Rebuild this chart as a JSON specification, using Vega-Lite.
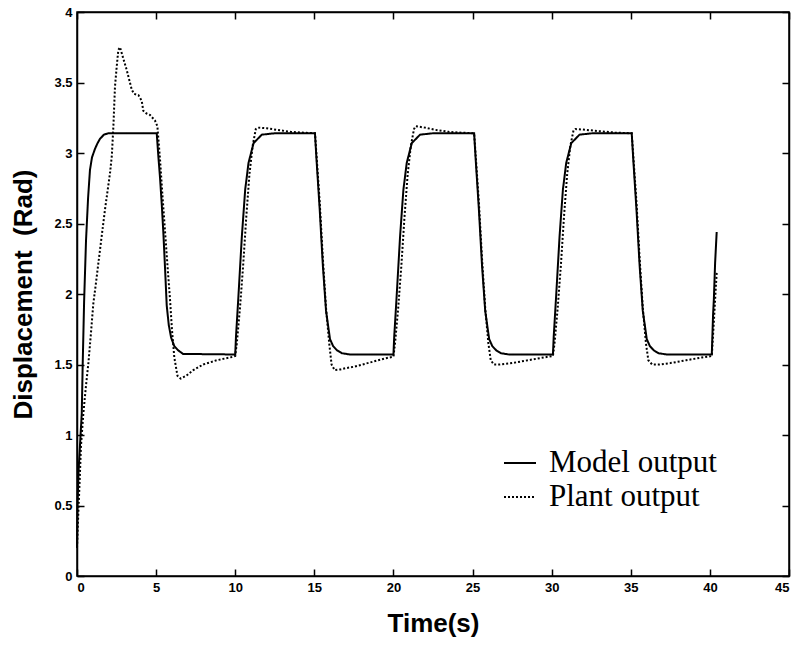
{
  "$schema": "https://vega.github.io/schema/vega-lite/v6.json",
  "width": 712,
  "height": 564,
  "autosize": "none",
  "padding": {"left": 77, "top": 12, "right": 9, "bottom": 75},
  "background": "white",
  "config": {
    "view": {"stroke": "black", "strokeWidth": 1.5},
    "axis": {
      "grid": false,
      "domainColor": "black",
      "domainWidth": 1.5,
      "tickColor": "black",
      "tickWidth": 1.5,
      "labelFont": "Liberation Sans",
      "labelFontWeight": "bold",
      "labelFontSize": 13,
      "labelColor": "black",
      "titleFont": "Liberation Sans",
      "titleFontWeight": "bold",
      "titleFontSize": 26,
      "titleColor": "black"
    }
  },
  "data": {"values": [
    {"s":"Model output","t":0,"v":0.2},{"s":"Model output","t":0.03,"v":0.5},{"s":"Model output","t":0.1,"v":0.75},{"s":"Model output","t":0.2,"v":0.95},{"s":"Model output","t":0.3,"v":1.15},{"s":"Model output","t":0.36,"v":1.5},{"s":"Model output","t":0.45,"v":1.95},{"s":"Model output","t":0.57,"v":2.38},{"s":"Model output","t":0.7,"v":2.68},{"s":"Model output","t":0.82,"v":2.88},{"s":"Model output","t":0.95,"v":2.97},{"s":"Model output","t":1.14,"v":3.03},{"s":"Model output","t":1.3,"v":3.07},{"s":"Model output","t":1.45,"v":3.1},{"s":"Model output","t":1.7,"v":3.13},{"s":"Model output","t":1.98,"v":3.14},{"s":"Model output","t":5.04,"v":3.14},
    {"s":"Model output","t":5.14,"v":2.98},{"s":"Model output","t":5.25,"v":2.82},{"s":"Model output","t":5.36,"v":2.63},{"s":"Model output","t":5.46,"v":2.43},{"s":"Model output","t":5.57,"v":2.17},{"s":"Model output","t":5.67,"v":1.92},{"s":"Model output","t":5.8,"v":1.78},{"s":"Model output","t":5.95,"v":1.69},{"s":"Model output","t":6.15,"v":1.63},{"s":"Model output","t":6.4,"v":1.6},{"s":"Model output","t":6.7,"v":1.575},{"s":"Model output","t":10.0,"v":1.571},
    {"s":"Model output","t":10.05,"v":1.7},{"s":"Model output","t":10.2,"v":1.98},{"s":"Model output","t":10.42,"v":2.41},{"s":"Model output","t":10.63,"v":2.74},{"s":"Model output","t":10.84,"v":2.93},{"s":"Model output","t":11.16,"v":3.07},{"s":"Model output","t":11.68,"v":3.13},{"s":"Model output","t":12.5,"v":3.14},{"s":"Model output","t":15.04,"v":3.14},
    {"s":"Model output","t":15.14,"v":2.95},{"s":"Model output","t":15.34,"v":2.6},{"s":"Model output","t":15.54,"v":2.2},{"s":"Model output","t":15.74,"v":1.88},{"s":"Model output","t":15.99,"v":1.68},{"s":"Model output","t":16.19,"v":1.63},{"s":"Model output","t":16.44,"v":1.6},{"s":"Model output","t":16.74,"v":1.58},{"s":"Model output","t":17.24,"v":1.571},{"s":"Model output","t":20.0,"v":1.571},
    {"s":"Model output","t":20.05,"v":1.7},{"s":"Model output","t":20.2,"v":1.98},{"s":"Model output","t":20.42,"v":2.41},{"s":"Model output","t":20.63,"v":2.74},{"s":"Model output","t":20.84,"v":2.93},{"s":"Model output","t":21.16,"v":3.07},{"s":"Model output","t":21.68,"v":3.13},{"s":"Model output","t":22.5,"v":3.14},{"s":"Model output","t":25.1,"v":3.14},
    {"s":"Model output","t":25.2,"v":2.95},{"s":"Model output","t":25.4,"v":2.6},{"s":"Model output","t":25.6,"v":2.2},{"s":"Model output","t":25.8,"v":1.88},{"s":"Model output","t":26.05,"v":1.68},{"s":"Model output","t":26.25,"v":1.63},{"s":"Model output","t":26.5,"v":1.6},{"s":"Model output","t":26.8,"v":1.58},{"s":"Model output","t":27.3,"v":1.571},{"s":"Model output","t":30.08,"v":1.571},
    {"s":"Model output","t":30.13,"v":1.7},{"s":"Model output","t":30.28,"v":1.98},{"s":"Model output","t":30.5,"v":2.41},{"s":"Model output","t":30.71,"v":2.74},{"s":"Model output","t":30.92,"v":2.93},{"s":"Model output","t":31.24,"v":3.07},{"s":"Model output","t":31.76,"v":3.13},{"s":"Model output","t":32.58,"v":3.14},{"s":"Model output","t":35.06,"v":3.14},
    {"s":"Model output","t":35.16,"v":2.95},{"s":"Model output","t":35.36,"v":2.6},{"s":"Model output","t":35.56,"v":2.2},{"s":"Model output","t":35.76,"v":1.88},{"s":"Model output","t":36.01,"v":1.68},{"s":"Model output","t":36.21,"v":1.63},{"s":"Model output","t":36.46,"v":1.6},{"s":"Model output","t":36.76,"v":1.58},{"s":"Model output","t":37.26,"v":1.571},{"s":"Model output","t":40.12,"v":1.571},
    {"s":"Model output","t":40.2,"v":1.85},{"s":"Model output","t":40.25,"v":1.96},{"s":"Model output","t":40.33,"v":2.22},{"s":"Model output","t":40.43,"v":2.44},

    {"s":"Plant output","t":0,"v":0.2},{"s":"Plant output","t":0.05,"v":0.35},{"s":"Plant output","t":0.1,"v":0.49},{"s":"Plant output","t":0.17,"v":0.68},{"s":"Plant output","t":0.25,"v":0.92},{"s":"Plant output","t":0.4,"v":1.15},{"s":"Plant output","t":0.55,"v":1.33},{"s":"Plant output","t":0.72,"v":1.51},{"s":"Plant output","t":0.88,"v":1.72},{"s":"Plant output","t":1.03,"v":1.93},{"s":"Plant output","t":1.2,"v":2.08},{"s":"Plant output","t":1.45,"v":2.31},{"s":"Plant output","t":1.77,"v":2.6},{"s":"Plant output","t":2.09,"v":2.86},{"s":"Plant output","t":2.2,"v":2.98},{"s":"Plant output","t":2.3,"v":3.19},{"s":"Plant output","t":2.4,"v":3.47},{"s":"Plant output","t":2.5,"v":3.6},{"s":"Plant output","t":2.61,"v":3.73},{"s":"Plant output","t":2.72,"v":3.75},{"s":"Plant output","t":2.9,"v":3.68},{"s":"Plant output","t":3.14,"v":3.59},{"s":"Plant output","t":3.46,"v":3.45},{"s":"Plant output","t":3.6,"v":3.42},{"s":"Plant output","t":3.88,"v":3.41},{"s":"Plant output","t":4.09,"v":3.37},{"s":"Plant output","t":4.19,"v":3.3},{"s":"Plant output","t":4.4,"v":3.28},{"s":"Plant output","t":4.61,"v":3.27},{"s":"Plant output","t":4.93,"v":3.23},{"s":"Plant output","t":5.08,"v":3.19},
    {"s":"Plant output","t":5.25,"v":2.95},{"s":"Plant output","t":5.4,"v":2.7},{"s":"Plant output","t":5.56,"v":2.45},{"s":"Plant output","t":5.72,"v":2.2},{"s":"Plant output","t":5.88,"v":1.96},{"s":"Plant output","t":6.0,"v":1.75},{"s":"Plant output","t":6.15,"v":1.55},{"s":"Plant output","t":6.35,"v":1.42},{"s":"Plant output","t":6.55,"v":1.4},{"s":"Plant output","t":6.9,"v":1.42},{"s":"Plant output","t":7.35,"v":1.46},{"s":"Plant output","t":7.98,"v":1.5},{"s":"Plant output","t":8.83,"v":1.53},{"s":"Plant output","t":9.88,"v":1.555},{"s":"Plant output","t":10.0,"v":1.56},
    {"s":"Plant output","t":10.1,"v":1.65},{"s":"Plant output","t":10.3,"v":1.9},{"s":"Plant output","t":10.5,"v":2.2},{"s":"Plant output","t":10.7,"v":2.55},{"s":"Plant output","t":10.9,"v":2.85},{"s":"Plant output","t":11.1,"v":3.05},{"s":"Plant output","t":11.3,"v":3.17},{"s":"Plant output","t":11.45,"v":3.18},{"s":"Plant output","t":12.0,"v":3.175},{"s":"Plant output","t":12.6,"v":3.165},{"s":"Plant output","t":13.5,"v":3.15},{"s":"Plant output","t":14.5,"v":3.143},{"s":"Plant output","t":15.04,"v":3.14},
    {"s":"Plant output","t":15.14,"v":2.98},{"s":"Plant output","t":15.34,"v":2.65},{"s":"Plant output","t":15.54,"v":2.25},{"s":"Plant output","t":15.74,"v":1.9},{"s":"Plant output","t":15.94,"v":1.65},{"s":"Plant output","t":16.09,"v":1.5},{"s":"Plant output","t":16.29,"v":1.46},{"s":"Plant output","t":16.64,"v":1.465},{"s":"Plant output","t":17.04,"v":1.475},{"s":"Plant output","t":17.54,"v":1.485},{"s":"Plant output","t":18.04,"v":1.5},{"s":"Plant output","t":18.54,"v":1.515},{"s":"Plant output","t":19.04,"v":1.53},{"s":"Plant output","t":19.54,"v":1.545},{"s":"Plant output","t":20.0,"v":1.555},
    {"s":"Plant output","t":20.1,"v":1.65},{"s":"Plant output","t":20.3,"v":1.9},{"s":"Plant output","t":20.5,"v":2.2},{"s":"Plant output","t":20.7,"v":2.55},{"s":"Plant output","t":20.9,"v":2.85},{"s":"Plant output","t":21.1,"v":3.05},{"s":"Plant output","t":21.3,"v":3.17},{"s":"Plant output","t":21.4,"v":3.19},{"s":"Plant output","t":22.0,"v":3.18},{"s":"Plant output","t":22.6,"v":3.165},{"s":"Plant output","t":23.5,"v":3.15},{"s":"Plant output","t":24.5,"v":3.143},{"s":"Plant output","t":25.1,"v":3.14},
    {"s":"Plant output","t":25.2,"v":2.98},{"s":"Plant output","t":25.4,"v":2.65},{"s":"Plant output","t":25.6,"v":2.25},{"s":"Plant output","t":25.8,"v":1.9},{"s":"Plant output","t":26.0,"v":1.65},{"s":"Plant output","t":26.15,"v":1.53},{"s":"Plant output","t":26.35,"v":1.5},{"s":"Plant output","t":26.7,"v":1.5},{"s":"Plant output","t":27.5,"v":1.51},{"s":"Plant output","t":28.5,"v":1.53},{"s":"Plant output","t":29.5,"v":1.55},{"s":"Plant output","t":30.08,"v":1.56},
    {"s":"Plant output","t":30.18,"v":1.65},{"s":"Plant output","t":30.38,"v":1.9},{"s":"Plant output","t":30.58,"v":2.2},{"s":"Plant output","t":30.78,"v":2.55},{"s":"Plant output","t":30.98,"v":2.85},{"s":"Plant output","t":31.18,"v":3.05},{"s":"Plant output","t":31.38,"v":3.16},{"s":"Plant output","t":31.5,"v":3.17},{"s":"Plant output","t":32.1,"v":3.165},{"s":"Plant output","t":33.0,"v":3.155},{"s":"Plant output","t":34.0,"v":3.145},{"s":"Plant output","t":35.06,"v":3.14},
    {"s":"Plant output","t":35.16,"v":2.98},{"s":"Plant output","t":35.36,"v":2.65},{"s":"Plant output","t":35.56,"v":2.25},{"s":"Plant output","t":35.76,"v":1.9},{"s":"Plant output","t":35.96,"v":1.65},{"s":"Plant output","t":36.11,"v":1.53},{"s":"Plant output","t":36.35,"v":1.5},{"s":"Plant output","t":36.8,"v":1.5},{"s":"Plant output","t":37.5,"v":1.51},{"s":"Plant output","t":38.5,"v":1.53},{"s":"Plant output","t":39.5,"v":1.55},{"s":"Plant output","t":40.12,"v":1.56},{"s":"Plant output","t":40.25,"v":1.8},{"s":"Plant output","t":40.35,"v":2.0},{"s":"Plant output","t":40.43,"v":2.15}
  ]},
  "layer": [
    {
      "mark": {"type": "line", "color": "black", "strokeWidth": 2, "interpolate": "linear"},
      "encoding": {
        "x": {"field": "t", "type": "quantitative", "scale": {"domain": [0, 45], "nice": false, "zero": false},
              "axis": {"title": "Time(s)", "values": [0,5,10,15,20,25,30,35,40,45], "format": "~g", "tickSize": -7, "labelPadding": 12, "titlePadding": 16}},
        "y": {"field": "v", "type": "quantitative", "scale": {"domain": [0, 4], "nice": false},
              "axis": {"title": "Displacement\u00a0\u00a0(Rad)", "values": [0,0.5,1,1.5,2,2.5,3,3.5,4], "format": "~g", "tickSize": -7, "labelPadding": 12, "titlePadding": 17}},
        "strokeDash": {"field": "s", "type": "nominal",
          "scale": {"domain": ["Model output", "Plant output"], "range": [[1, 0], [2, 2]]},
          "legend": {"title": null, "orient": "none", "legendX": 426, "legendY": 434, "padding": 0,
            "symbolType": "stroke", "symbolSize": 1024, "symbolStrokeWidth": 2, "symbolStrokeColor": "black",
            "labelFont": "Liberation Serif", "labelFontSize": 31, "labelColor": "black", "labelOffset": 12,
            "rowPadding": 2, "labelLimit": 400}},
        "detail": {"field": "s"}
      }
    },
    {
      "mark": {"type": "point", "opacity": 0},
      "encoding": {
        "x": {"field": "t", "type": "quantitative", "axis": {"orient": "top", "labels": false, "title": null, "tickSize": -7, "values": [0,5,10,15,20,25,30,35,40,45]}},
        "y": {"field": "v", "type": "quantitative", "axis": {"orient": "right", "labels": false, "title": null, "tickSize": -7, "values": [0,0.5,1,1.5,2,2.5,3,3.5,4]}}
      }
    }
  ],
  "resolve": {"axis": {"x": "independent", "y": "independent"}}
}
